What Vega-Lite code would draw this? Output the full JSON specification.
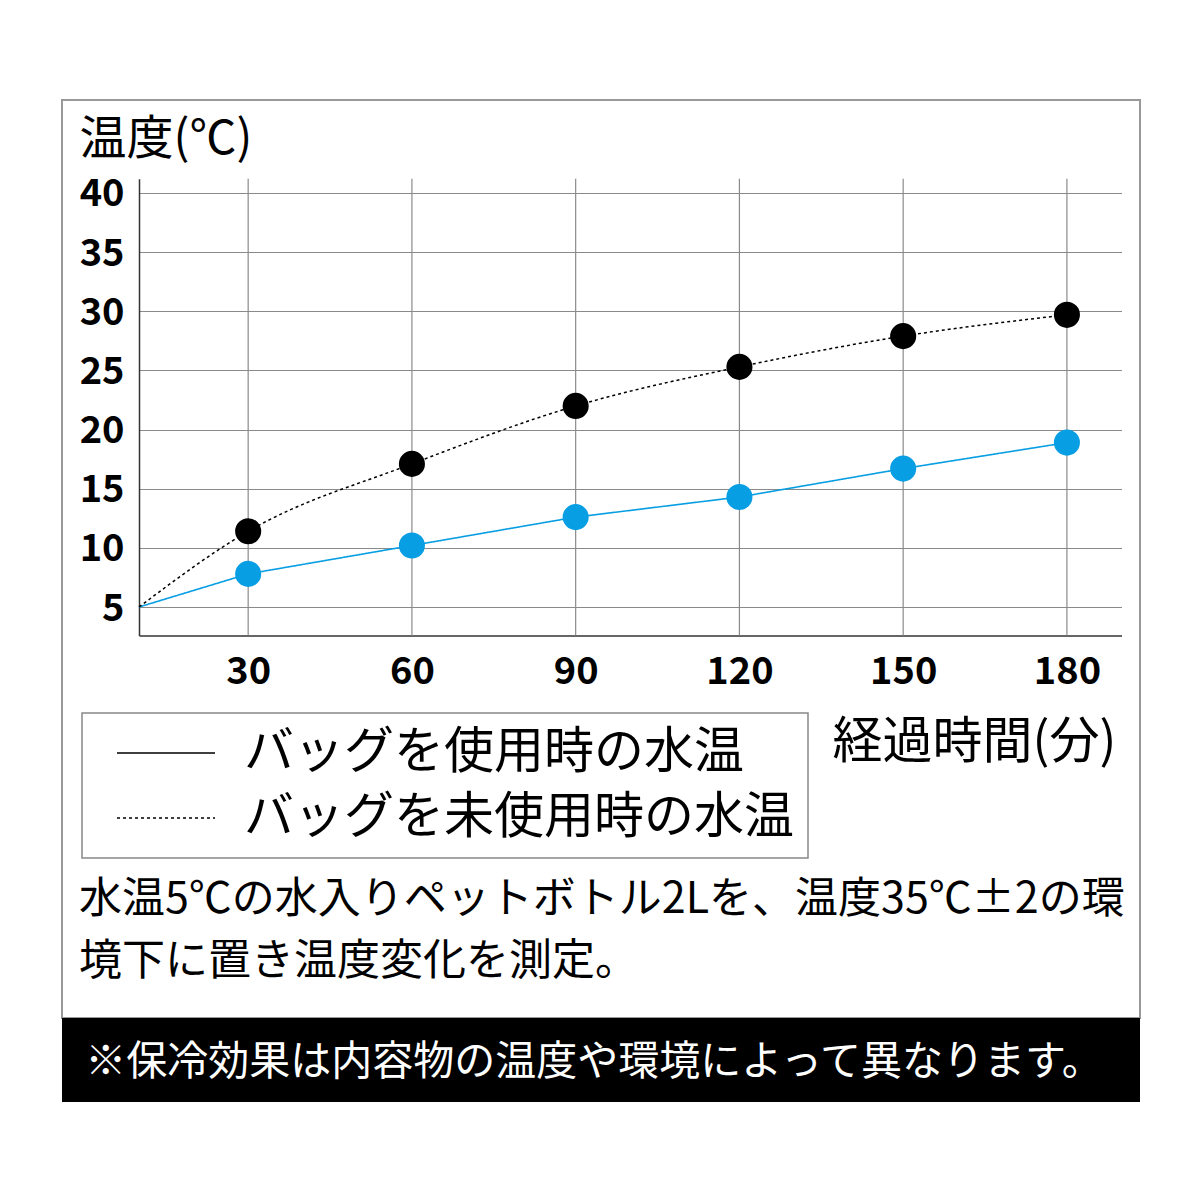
{
  "$schema": "https://vega.github.io/schema/vega-lite/v6.json",
  "background": "white",
  "padding": {"left": 61, "top": 99, "right": 61, "bottom": 99},
  "bounds": "flush",
  "spacing": 0,
  "config": {
    "font": "Noto Sans CJK JP",
    "view": {"stroke": null},
    "legend": {"strokeWidth": 1.5}
  },
  "datasets": {
    "temps": [
      {"time": 10, "temp": 5, "series": "バッグを使用時の水温"},
      {"time": 30, "temp": 7.8, "series": "バッグを使用時の水温"},
      {"time": 60, "temp": 10.2, "series": "バッグを使用時の水温"},
      {"time": 90, "temp": 12.6, "series": "バッグを使用時の水温"},
      {"time": 120, "temp": 14.3, "series": "バッグを使用時の水温"},
      {"time": 150, "temp": 16.7, "series": "バッグを使用時の水温"},
      {"time": 180, "temp": 18.9, "series": "バッグを使用時の水温"},
      {"time": 10, "temp": 5, "series": "バッグを未使用時の水温"},
      {"time": 30, "temp": 11.4, "series": "バッグを未使用時の水温"},
      {"time": 60, "temp": 17.1, "series": "バッグを未使用時の水温"},
      {"time": 90, "temp": 22.0, "series": "バッグを未使用時の水温"},
      {"time": 120, "temp": 25.3, "series": "バッグを未使用時の水温"},
      {"time": 150, "temp": 27.9, "series": "バッグを未使用時の水温"},
      {"time": 180, "temp": 29.7, "series": "バッグを未使用時の水温"}
    ],
    "xgrid": [
      {"time": 30}, {"time": 60}, {"time": 90}, {"time": 120}, {"time": 150}, {"time": 180}
    ],
    "caution": [
      {"note": "※保冷効果は内容物の温度や環境によって異なります。"}
    ]
  },
  "vconcat": [
    {
      "width": 1078,
      "height": 918,
      "view": {"stroke": "#999999", "strokeWidth": 2},
      "title": {
        "text": ["水温5℃の水入りペットボトル2Lを、温度35℃±2の環", "境下に置き温度変化を測定。"],
        "orient": "bottom",
        "anchor": "start",
        "frame": "group",
        "offset": -139,
        "dx": 17,
        "fontSize": 43,
        "fontWeight": "normal",
        "baseline": "top",
        "lineHeight": 62,
        "color": "black"
      },
      "layer": [
        {
          "data": {"name": "xgrid"},
          "mark": {"type": "rule", "color": "#8a8a8a", "strokeWidth": 1.2},
          "encoding": {
            "x": {"field": "time", "type": "quantitative"},
            "y": {"datum": 2.6},
            "y2": {"datum": 41.2}
          }
        },
        {
          "data": {"name": "temps"},
          "transform": [{"filter": "datum.series === 'バッグを使用時の水温'"}],
          "mark": {"type": "line", "color": "#079ee3", "strokeWidth": 1.6},
          "encoding": {
            "x": {
              "field": "time",
              "type": "quantitative",
              "scale": {"domain": [10, 190], "range": [77, 1059.5], "nice": false, "zero": false},
              "axis": {
                "values": [30, 60, 90, 120, 150, 180],
                "offset": -382.6,
                "title": "経過時間(分)",
                "titleX": 770,
                "titleY": 122,
                "titleAngle": 0,
                "titleAlign": "left",
                "titleBaseline": "alphabetic",
                "titleFontSize": 50,
                "titleFontWeight": "normal",
                "titleColor": "black",
                "labelFontSize": 38,
                "labelFontWeight": "bold",
                "labelColor": "black",
                "labelPadding": 18,
                "labelFlush": false,
                "ticks": false,
                "domainColor": "#333333",
                "domainWidth": 1.5,
                "grid": false
              }
            },
            "y": {
              "field": "temp",
              "type": "quantitative",
              "scale": {"domain": [2.6, 41.2], "range": [535.4, 78.8], "nice": false, "zero": false},
              "axis": {
                "values": [5, 10, 15, 20, 25, 30, 35, 40],
                "offset": -77,
                "title": "温度(℃)",
                "titleX": -60,
                "titleY": 53,
                "titleAngle": 0,
                "titleAlign": "left",
                "titleBaseline": "alphabetic",
                "titleFontSize": 47,
                "titleFontWeight": "normal",
                "titleColor": "black",
                "labelFontSize": 38,
                "labelFontWeight": "bold",
                "labelColor": "black",
                "labelPadding": 15,
                "labelBaseline": "middle",
                "labelOffset": 2,
                "labelFlush": false,
                "ticks": false,
                "domainColor": "#333333",
                "domainWidth": 1.5,
                "grid": true,
                "gridColor": "#8a8a8a",
                "gridWidth": 1.2
              }
            },
            "strokeDash": {
              "field": "series",
              "type": "nominal",
              "scale": {"domain": ["バッグを使用時の水温", "バッグを未使用時の水温"], "range": [[1, 0], [3, 3]]},
              "legend": {
                "title": null,
                "orient": "none",
                "legendX": 20,
                "legendY": 613,
                "strokeColor": "#888888",
                "padding": 14,
                "symbolType": "stroke",
                "symbolSize": 9604,
                "symbolStrokeWidth": 1.6,
                "symbolStrokeColor": "black",
                "symbolOffset": 20,
                "labelOffset": 28,
                "labelFontSize": 50,
                "labelColor": "black",
                "labelLimit": 800,
                "clipHeight": 52,
                "rowPadding": 13
              }
            }
          }
        },
        {
          "data": {"name": "temps"},
          "transform": [{"filter": "datum.series === 'バッグを未使用時の水温'"}],
          "mark": {"type": "line", "color": "black", "strokeWidth": 1.5, "interpolate": "monotone"},
          "encoding": {
            "x": {"field": "time", "type": "quantitative"},
            "y": {"field": "temp", "type": "quantitative"},
            "strokeDash": {"field": "series", "type": "nominal"}
          }
        },
        {
          "data": {"name": "temps"},
          "transform": [{"filter": "datum.time >= 30"}],
          "mark": {"type": "circle", "size": 680, "opacity": 1},
          "encoding": {
            "x": {"field": "time", "type": "quantitative"},
            "y": {"field": "temp", "type": "quantitative"},
            "color": {
              "field": "series",
              "type": "nominal",
              "scale": {"domain": ["バッグを使用時の水温", "バッグを未使用時の水温"], "range": ["#079ee3", "black"]},
              "legend": null
            }
          }
        }
      ]
    },
    {
      "width": 1078,
      "height": 84,
      "view": {"fill": "black", "stroke": null},
      "data": {"name": "caution"},
      "mark": {"type": "text", "color": "white", "fontSize": 41, "align": "center", "baseline": "middle", "dx": -7, "dy": 3},
      "encoding": {"text": {"field": "note"}}
    }
  ]
}
